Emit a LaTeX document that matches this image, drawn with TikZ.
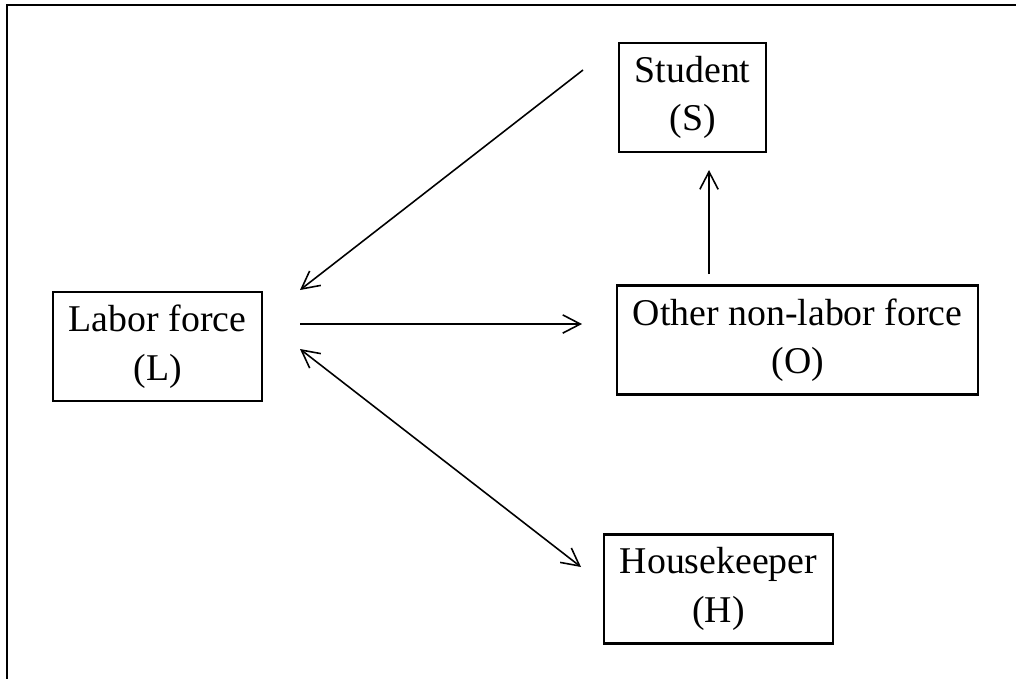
\documentclass[tikz,border=0pt]{standalone}
\usepackage{fontspec}
\setmainfont{Liberation Serif}
\usepackage{tikz}
\usetikzlibrary{arrows.meta, positioning}

\begin{document}
\begin{tikzpicture}[x=0.01cm, y=-0.01cm,
    state/.style={draw, line width=0.6pt, align=center, inner xsep=4.5pt,
        minimum height=1.09cm, font=\fontsize{10.75}{13.8}\selectfont},
    flow/.style={line width=0.45pt, -{Straight Barb[length=5pt, width=5.2pt]}},
    twoway/.style={line width=0.45pt,
        {Straight Barb[length=5pt, width=5.2pt]}-{Straight Barb[length=5pt, width=5.2pt]}}]
    \useasboundingbox (0,0) rectangle (1016,678);
    % outer frame
    \draw[line width=0.6pt] (7,690) -- (7,5) -- (1030,5);

    % states
    \node[state, anchor=west] (L) at (52,346.5) {Labor force\\(L)};
    \node[state, anchor=west] (S) at (618,97.5) {Student\\(S)};
    \node[state, anchor=west] (O) at (616,340) {Other non-labor force\\(O)};
    \node[state, anchor=west] (H) at (603,589) {Housekeeper\\(H)};

    % arrow ends
    \coordinate (sOut) at (583,70);
    \coordinate (lIn) at (300,290);
    \coordinate (lOut) at (300,324);
    \coordinate (oIn) at (582,324);
    \coordinate (lBoth) at (300,349);
    \coordinate (hBoth) at (581,567);
    \coordinate (oOut) at (709,274);
    \coordinate (sIn) at (709,170);

    \draw[flow] (sOut) -- (lIn);
    \draw[flow] (lOut) -- (oIn);
    \draw[twoway] (lBoth) -- (hBoth);
    \draw[flow] (oOut) -- (sIn);
\end{tikzpicture}
\end{document}
